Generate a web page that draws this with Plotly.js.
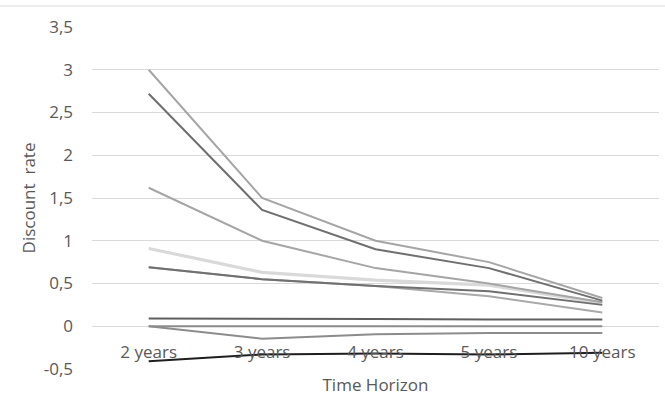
<!DOCTYPE html>
<html>
<head>
<meta charset="utf-8">
<script src="https://cdn.plot.ly/plotly-3.0.1.min.js"></script>
<style>html,body{margin:0;padding:0;background:#fff;}#chart{width:665px;height:412px;}</style>
</head>
<body>
<div id="chart"></div>
<script>
const categories = ["2 years", "3 years", "4 years", "5 years", "10 years"];

const seriesA = [3.0, 1.5, 1.0, 0.75, 0.33];
const seriesB = [2.72, 1.36, 0.90, 0.68, 0.30];
const seriesC = [1.62, 1.0, 0.68, 0.50, 0.28];
const seriesD = [0.91, 0.63, 0.54, 0.48, 0.27];
const seriesE = [0.69, 0.55, 0.47, 0.41, 0.25];
const seriesF = [0.69, 0.55, 0.47, 0.35, 0.16];
const seriesG = [0.09, 0.09, 0.085, 0.08, 0.08];
const seriesH = [0.0, 0.0, 0.0, 0.0, 0.0];
const seriesI = [0.0, -0.145, -0.095, -0.08, -0.08];
const seriesJ = [-0.41, -0.33, -0.32, -0.33, -0.31];

const yTickValues = [-0.5, 0, 0.5, 1, 1.5, 2, 2.5, 3, 3.5];
const yTickLabels = ["-0,5", "0", "0,5", "1", "1,5", "2", "2,5", "3", "3,5"];

const seriesList = [seriesD, seriesF, seriesE, seriesC, seriesA, seriesB, seriesG, seriesH, seriesI, seriesJ];
const colors = ["#d9d9d9", "#a9a9a9", "#707070", "#a5a5a5", "#a5a5a5", "#6f6f6f", "#5f5f5f", "#8c8c8c", "#8c8c8c", "#1e1e1e"];
const widths = [3.2, 2, 2, 2, 2, 2, 2, 2, 2, 2];

const traces = seriesList.map((s, i) => ({
  x: categories,
  y: s,
  type: "scatter",
  mode: "lines",
  line: {color: colors[i], width: widths[i]},
  showlegend: false,
  hoverinfo: "skip"
}));

const font = {family: "Open Sans, sans-serif", size: 17, color: "#595959"};

const layout = {
  width: 665,
  height: 412,
  margin: {l: 92, r: 6, t: 27, b: 43},
  paper_bgcolor: "#ffffff",
  plot_bgcolor: "#ffffff",
  font: font,
  showlegend: false,
  xaxis: {
    type: "category",
    range: [-0.5, 4.5],
    anchor: "free",
    position: 0.125,
    showgrid: false,
    zeroline: false,
    showline: false,
    ticks: "",
    ticklabelstandoff: 14,
    tickfont: font,
    title: {text: "Time Horizon", font: font, standoff: 16}
  },
  yaxis: {
    range: [-0.5, 3.5],
    tickmode: "array",
    tickvals: yTickValues,
    ticktext: yTickLabels,
    showgrid: true,
    gridcolor: "#d9d9d9",
    gridwidth: 1,
    zeroline: false,
    showline: false,
    ticks: "",
    ticklabelstandoff: 18,
    tickfont: font,
    title: {text: "Discount&nbsp; rate", font: font, standoff: 3}
  },
  shapes: [{
    type: "line", xref: "paper", yref: "paper",
    x0: -92/567, x1: 573/567, y0: 1 + 21/342, y1: 1 + 21/342,
    line: {color: "#d9d9d9", width: 1}
  }]
};

Plotly.newPlot("chart", traces, layout, {displayModeBar: false, staticPlot: true});
</script>
</body>
</html>
